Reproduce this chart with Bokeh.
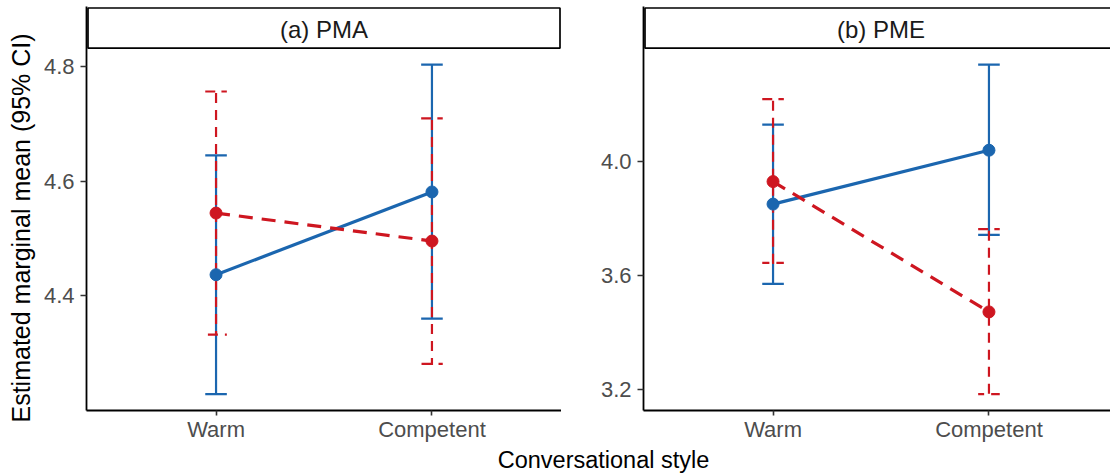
from bokeh.plotting import figure
from bokeh.models import Range1d, FixedTicker, PrintfTickFormatter, Label, Title
from bokeh.layouts import row, column
from bokeh.embed import file_html
from bokeh.resources import INLINE

# ---------------- data ----------------
styles = ["Warm", "Competent"]
panel_titles = ["(a) PMA", "(b) PME"]
x_title = "Conversational style"
y_title = "Estimated marginal mean (95% CI)"

# (a) PMA
pma_blue_mean = [4.436, 4.581]
pma_blue_low = [4.227, 4.359]
pma_blue_high = [4.645, 4.804]
pma_red_mean = [4.544, 4.495]
pma_red_low = [4.331, 4.280]
pma_red_high = [4.757, 4.710]

# (b) PME
pme_blue_mean = [3.849, 4.038]
pme_blue_low = [3.569, 3.741]
pme_blue_high = [4.128, 4.338]
pme_red_mean = [3.928, 3.471]
pme_red_low = [3.643, 3.183]
pme_red_high = [4.217, 3.761]

pma_ticks = [4.4, 4.6, 4.8]
pme_ticks = [3.2, 3.6, 4.0]

BLUE = "#1B66AF"
RED = "#CE1620"
FONT = "Liberation Sans"
CAP = 0.05

TOTAL_W = 1110
TOP = 6            # space above the strip
STRIP_H = 42       # strip height (inside the frame)
PANEL_H = 365      # panel height
FRAME_H = STRIP_H + PANEL_H
BOTTOM = 31
X_H = 29
UNIT_PX = 475 / 2.2  # pixels per x unit


def errorbar_paths(xs, lows, highs):
    px, py = [], []
    for x, lo, hi in zip(xs, lows, highs):
        px.append([x - CAP, x + CAP, x, x, x - CAP, x + CAP])
        py.append([hi, hi, hi, lo, lo, lo])
    return px, py


def panel(width, border_left, x_end, blue, red, ticks, title, strip_right_px, ylabel=None):
    lows = list(blue[1]) + list(red[1])
    highs = list(blue[2]) + list(red[2])
    lo, hi = min(lows), max(highs)
    pad = 0.05 * (hi - lo)
    y0, y1 = lo - pad, hi + pad
    y_top = y1 + (y1 - y0) * STRIP_H / PANEL_H
    ypx = (y_top - y0) / FRAME_H
    xpx = 1.0 / UNIT_PX

    p = figure(width=width, height=TOP + FRAME_H + BOTTOM, title=None,
               x_range=Range1d(0.4, x_end), y_range=Range1d(y0, y_top),
               output_backend="svg", toolbar_location=None,
               min_border_left=border_left, min_border_right=0,
               min_border_top=TOP, min_border_bottom=BOTTOM)
    p.outline_line_color = None
    p.grid.visible = False

    # facet strip
    p.quad(left=[0.4 + 1.5 * xpx], right=[x_end - strip_right_px * xpx],
           bottom=[y1], top=[y_top - 1.5 * ypx],
           fill_color="white", line_color="black", line_width=1.7)
    p.add_layout(Label(x=1.5, y=(y1 + y_top) / 2 - 2 * ypx, text=title,
                       text_align="center", text_baseline="middle", text_font=FONT,
                       text_font_size="24px", text_color="#1A1A1A"))

    xpos = [i + 1 for i in range(len(styles))]

    # error bars
    for (mean, low, high), color, dash in ((blue, BLUE, "solid"), (red, RED, "10 7")):
        ex, ey = errorbar_paths(xpos, low, high)
        p.multi_line(ex, ey, line_color=color, line_width=2.2, line_dash=dash,
                     line_join="miter")
    # connecting lines
    p.line(xpos, blue[0], line_color=BLUE, line_width=3.2)
    p.line(xpos, red[0], line_color=RED, line_width=3.2, line_dash="14 9")
    # points
    p.scatter(xpos, blue[0], size=12, fill_color=BLUE, line_color=BLUE)
    p.scatter(xpos, red[0], size=12, fill_color=RED, line_color=RED)

    # x axis
    xa = p.xaxis[0]
    xa.ticker = FixedTicker(ticks=xpos)
    xa.major_label_overrides = {x: s for x, s in zip(xpos, styles)}
    xa.minor_tick_line_color = None
    # y axis
    ya = p.yaxis[0]
    ya.ticker = FixedTicker(ticks=ticks)
    ya.formatter = PrintfTickFormatter(format="%.1f")
    ya.minor_tick_line_color = None
    for ax in (xa, ya):
        ax.axis_line_color = "black"
        ax.axis_line_width = 1.8
        ax.major_tick_line_color = "#333333"
        ax.major_tick_line_width = 1.6
        ax.major_tick_in = 0
        ax.major_label_text_font = FONT
        ax.major_label_text_color = "#4D4D4D"
        ax.major_label_text_font_size = "22px"
    xa.major_tick_out = 5
    xa.major_label_standoff = 1
    ya.major_tick_out = 6
    ya.major_label_standoff = 6
    if ylabel:
        p.add_layout(Title(text=ylabel, align="left", offset=-12, vertical_align="middle",
                           standoff=9, text_font=FONT, text_font_size="25px",
                           text_font_style="normal", text_color="black"), "left")
    return p


LEFT_W = 561
RIGHT_W = TOTAL_W - LEFT_W
p1 = panel(LEFT_W, 86, 2.6, (pma_blue_mean, pma_blue_low, pma_blue_high),
           (pma_red_mean, pma_red_low, pma_red_high), pma_ticks,
           panel_titles[0], 1.5, y_title)
p2 = panel(RIGHT_W, 82, 0.4 + (RIGHT_W - 82) / UNIT_PX,
           (pme_blue_mean, pme_blue_low, pme_blue_high),
           (pme_red_mean, pme_red_low, pme_red_high), pme_ticks,
           panel_titles[1], -30)

p3 = figure(width=TOTAL_W, height=X_H, title=None,
            x_range=Range1d(0, TOTAL_W), y_range=Range1d(0, X_H),
            output_backend="svg", toolbar_location=None,
            x_axis_location=None, y_axis_location=None, min_border=0)
p3.outline_line_color = None
p3.grid.visible = False
p3.add_layout(Label(x=603, y=13.5, text=x_title, text_align="center",
                    text_baseline="middle", text_font=FONT,
                    text_font_size="23.5px", text_color="black"))

layout = column(row(p1, p2), p3)

open("out.html", "w").write(file_html(layout, INLINE))
